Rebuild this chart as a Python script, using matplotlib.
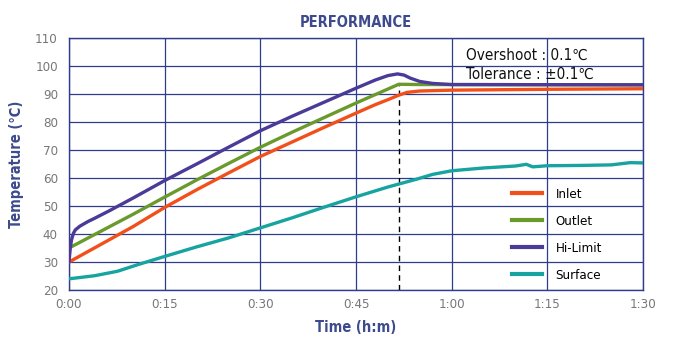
import matplotlib
matplotlib.use('Agg')
import matplotlib.pyplot as plt
from matplotlib.lines import Line2D

# time in minutes, values in deg C
t_inlet = [0, 5, 10, 15, 20, 25, 30, 35, 40, 45, 48, 50, 51.7, 53, 55, 60, 75, 90]
v_inlet = [30, 36.3, 42.6, 49.5, 55.8, 61.8, 67.7, 72.9, 78.1, 83.2, 86.2, 88.0, 89.6, 90.6, 91.1, 91.4, 91.7, 91.9]

t_outlet = [0, 5, 10, 15, 20, 25, 30, 35, 40, 45, 48, 50, 51.7, 55, 90]
v_outlet = [35, 41, 47, 53.2, 59.3, 65.2, 71, 76.4, 81.6, 86.8, 89.8, 91.8, 93.5, 93.4, 93.3]

t_hilimit = [0, 0.2, 0.4, 0.7, 1.0, 1.7, 3, 4, 6.4, 10, 15, 20, 25, 30, 35, 40, 45, 48, 50,
             51.5, 52.5, 53.5, 55, 57, 60, 90]
v_hilimit = [30, 35, 38, 40.3, 41.5, 42.8, 44.5, 45.6, 48.4, 52.8, 59.1, 65, 71, 76.9, 82.1, 87.1,
             92.1, 95, 96.6, 97.2, 96.8, 95.7, 94.5, 93.8, 93.4, 93.3]

t_surface = [0, 4, 7.6, 10.7, 15, 20, 25, 30, 35, 40, 45, 50, 54.5, 57, 60, 65, 70, 71.7, 72.7,
             75, 80, 85, 88, 90]
v_surface = [24, 25.1, 26.7, 29, 32, 35.4, 38.6, 42.2, 45.8, 49.6, 53.3, 56.8, 59.6, 61.3, 62.6,
             63.6, 64.3, 64.9, 64.0, 64.4, 64.5, 64.7, 65.5, 65.4]

x_ticks = [0, 15, 30, 45, 60, 75, 90]
x_labels = ['0:00', '0:15', '0:30', '0:45', '1:00', '1:15', '1:30']
y_ticks = [20, 30, 40, 50, 60, 70, 80, 90, 100, 110]
settle_time = 51.7

NAVY = '#2f3c8c'
TITLE = '#3d4b8e'
C_INLET = '#f2501a'
C_OUTLET = '#6b9a2c'
C_HILIMIT = '#4b3a98'
C_SURFACE = '#17a3a0'

plt.rcParams['font.family'] = ['DejaVu Sans']
plt.rcParams['font.stretch'] = 'condensed'

fig = plt.figure(figsize=(6.9, 3.4), dpi=100)
ax = fig.add_axes([0.1, 0.147, 0.832, 0.741])

ax.plot(t_surface, v_surface, color=C_SURFACE, lw=2.4, solid_capstyle='round', zorder=3)
ax.plot(t_outlet, v_outlet, color=C_OUTLET, lw=2.4, solid_capstyle='round', zorder=3)
ax.plot(t_inlet, v_inlet, color=C_INLET, lw=2.4, solid_capstyle='round', zorder=3)
ax.plot(t_hilimit, v_hilimit, color=C_HILIMIT, lw=2.4, solid_capstyle='round', zorder=4)

ax.vlines(settle_time, 20, 93.4, colors='black', linestyles=(0, (4, 3)), lw=1.0, zorder=2)

ax.set_xlim(0, 90)
ax.set_ylim(20, 110)
ax.set_xticks(x_ticks)
ax.set_xticklabels(x_labels)
ax.set_yticks(y_ticks)
ax.grid(True, color=NAVY, lw=0.9)
ax.set_axisbelow(True)
for s in ax.spines.values():
    s.set_color(NAVY)
    s.set_linewidth(1.0)
ax.tick_params(axis='both', length=0, labelsize=9.5, labelcolor='#777777')
ax.tick_params(axis='y', pad=8)
ax.tick_params(axis='x', pad=6)

ax.set_title('PERFORMANCE', fontsize=10.5, fontweight='bold', color=TITLE, pad=8)
ax.set_xlabel('Time (h:m)', fontsize=10.5, fontweight='bold', color=TITLE, labelpad=6)
ax.set_ylabel('Temperature (℃)', fontsize=10.5, fontweight='bold', color=TITLE, labelpad=8)

ax.text(62.2, 104, 'Overshoot : 0.1℃', fontsize=11, color='#111111', va='center', ha='left')
ax.text(62.2, 96.9, 'Tolerance : ±0.1℃', fontsize=11, color='#111111', va='center', ha='left')

handles = [Line2D([], [], color=C_INLET, lw=3),
           Line2D([], [], color=C_OUTLET, lw=3),
           Line2D([], [], color=C_HILIMIT, lw=3),
           Line2D([], [], color=C_SURFACE, lw=3)]
ax.legend(handles, ['Inlet', 'Outlet', 'Hi-Limit', 'Surface'], loc='lower left',
          bbox_to_anchor=(0.772, 0.032), frameon=False, fontsize=9.5, borderpad=0,
          borderaxespad=0, handlelength=2.25, handletextpad=1.05, labelspacing=1.07)

fig.savefig('out.png', dpi=100)
